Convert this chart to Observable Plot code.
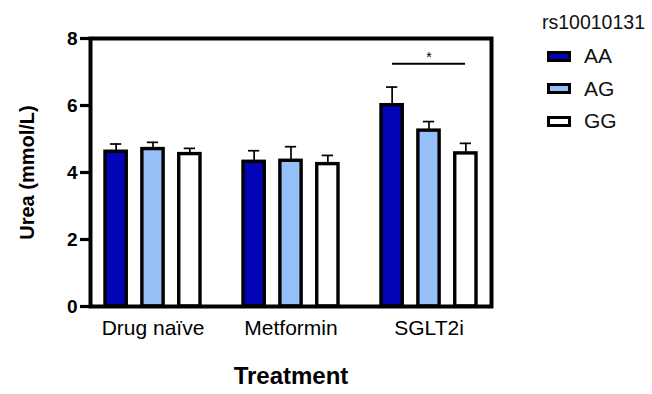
<!DOCTYPE html>
<html><head><meta charset="utf-8">
<script src="https://cdn.jsdelivr.net/npm/d3@7"></script>
<script src="https://cdn.jsdelivr.net/npm/@observablehq/plot@0.6"></script>
<style>
body{margin:0;background:#fff;font-family:"Liberation Sans",Arial,sans-serif;}
#wrap{position:relative;width:652px;height:394px;}
#legend{position:absolute;left:0;top:0;width:652px;height:394px;pointer-events:none;}
.lt{position:absolute;left:542px;top:10px;font-size:19.5px;line-height:24px;color:#111;}
.li{position:absolute;left:547px;height:24px;display:flex;align-items:center;font-size:21px;color:#111;}
.sw{width:18px;height:5px;border:3.5px solid #000;margin-right:13px;}
</style></head>
<body><div id="wrap"><div id="chart"></div><div id="legend"></div></div>
<script>
const treatments = ["Drug naïve", "Metformin", "SGLT2i"];
const genotypes = ["AA", "AG", "GG"];
const meanAA = [4.62, 4.32, 6.01];
const meanAG = [4.70, 4.35, 5.25];
const meanGG = [4.55, 4.25, 4.57];
const upperAA = [4.85, 4.65, 6.55];
const upperAG = [4.90, 4.77, 5.52];
const upperGG = [4.72, 4.51, 4.87];
const yTicks = [0, 2, 4, 6, 8];
const sigLevel = 7.25;
const sigLabel = "*";
const legendTitle = "rs10010131";

const colors = {AA: "#0303b8", AG: "#94c0f7", GG: "#ffffff"};
const means = {AA: meanAA, AG: meanAG, GG: meanGG};
const uppers = {AA: upperAA, AG: upperAG, GG: upperGG};
const data = [];
genotypes.forEach(g => treatments.forEach((t, i) => data.push({treatment: t, genotype: g, mean: means[g][i], upper: uppers[g][i]})));

const W = 652, H = 394, mL = 90, mR = 161;
const pI = 0.31, pO = 0.1;
const step = (W - mL - mR) / (treatments.length - pI + 2 * pO);
const bw = step * (1 - pI);
const barW = 22;
const offs = {AA: -(bw / 2 - barW / 2), AG: 0, GG: (bw / 2 - barW / 2)};

const marks = [];
genotypes.forEach(g => {
  const d = data.filter(r => r.genotype === g);
  const o = offs[g];
  marks.push(Plot.ruleX(d, {x: "treatment", y1: "mean", y2: "upper", dx: o, stroke: "#000", strokeWidth: 1.7}));
  marks.push(Plot.tickY(d, {x: "treatment", y: "upper", insetLeft: bw / 2 + o - 6, insetRight: bw / 2 - o - 6, stroke: "#000", strokeWidth: 1.7}));
  marks.push(Plot.barY(d, {x: "treatment", y: "mean", fill: colors[g], stroke: "#000", strokeWidth: 3.4,
    insetLeft: bw / 2 + o - barW / 2, insetRight: bw / 2 - o - barW / 2}));
});
const sig = [{treatment: "SGLT2i", y: sigLevel, label: sigLabel}];
marks.push(Plot.tickY(sig, {x: "treatment", y: "y", insetLeft: barW / 2, insetRight: barW / 2, stroke: "#000", strokeWidth: 2}));
marks.push(Plot.text(sig, {x: "treatment", y: "y", text: "label", dy: -6, fontSize: 14, fill: "#000"}));
marks.push(Plot.frame({stroke: "#000", strokeWidth: 4}));
marks.push(Plot.axisY({ticks: yTicks, tickSize: 10, tickPadding: 3, strokeWidth: 3.2, fontSize: 19, fontWeight: "bold", label: null}));
marks.push(Plot.text(["Urea (mmol/L)"], {frameAnchor: "left", textAnchor: "middle", dx: -63, rotate: -90, fontSize: 20, fontWeight: "bold", fill: "#000"}));
marks.push(Plot.axisX({tickSize: 0, tickPadding: 14, fontSize: 21, label: null}));
marks.push(Plot.text(["Treatment"], {frameAnchor: "bottom", dy: 77, fontSize: 24, fontWeight: "bold", fill: "#000"}));

const chart = Plot.plot({
  width: W, height: H,
  marginLeft: mL, marginRight: mR, marginTop: 38, marginBottom: 88,
  style: {fontFamily: "Liberation Sans, Arial, sans-serif", color: "#000", background: "#fff"},
  x: {domain: treatments, paddingInner: pI, paddingOuter: pO, label: null},
  y: {domain: [0, 8], label: null},
  marks
});
document.getElementById("chart").appendChild(chart);

const lg = document.getElementById("legend");
const t = document.createElement("div"); t.className = "lt"; t.textContent = legendTitle; lg.appendChild(t);
genotypes.forEach((g, i) => {
  const it = document.createElement("div"); it.className = "li"; it.style.top = (44 + i * 32.5) + "px";
  const s = document.createElement("div"); s.className = "sw"; s.style.background = colors[g];
  const l = document.createElement("span"); l.textContent = g;
  it.appendChild(s); it.appendChild(l); lg.appendChild(it);
});
</script></body></html>
